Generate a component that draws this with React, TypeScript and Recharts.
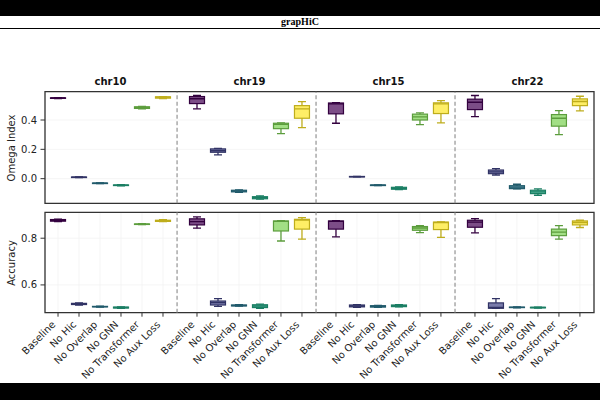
import { Bar, ComposedChart, XAxis, YAxis, Scatter, ReferenceLine, ReferenceArea, CartesianGrid } from "recharts"

const chromosomes = ["chr10", "chr19", "chr15", "chr22"]
const variants = ["Baseline", "No Hic", "No Overlap", "No GNN", "No Transformer", "No Aux Loss"]
const variantColors = ["#440154", "#414487", "#2a788e", "#22a884", "#7ad151", "#fde725"]

// each row: [lower whisker, q1, median, q3, upper whisker], one row per variant
const omegaChr10 = [
  [0.546, 0.548, 0.55, 0.551, 0.553],
  [0.008, 0.009, 0.01, 0.011, 0.012],
  [-0.033, -0.032, -0.031, -0.03, -0.029],
  [-0.049, -0.047, -0.045, -0.043, -0.041],
  [0.476, 0.479, 0.485, 0.49, 0.493],
  [0.546, 0.549, 0.556, 0.558, 0.56],
]
const omegaChr19 = [
  [0.476, 0.512, 0.545, 0.56, 0.567],
  [0.162, 0.18, 0.19, 0.203, 0.207],
  [-0.093, -0.09, -0.085, -0.079, -0.076],
  [-0.14, -0.137, -0.13, -0.123, -0.117],
  [0.307, 0.341, 0.37, 0.378, 0.38],
  [0.348, 0.412, 0.476, 0.498, 0.526],
]
const omegaChr15 = [
  [0.378, 0.442, 0.51, 0.516, 0.518],
  [0.012, 0.013, 0.014, 0.015, 0.016],
  [-0.048, -0.047, -0.045, -0.043, -0.042],
  [-0.074, -0.072, -0.066, -0.059, -0.057],
  [0.369, 0.4, 0.421, 0.44, 0.448],
  [0.38, 0.444, 0.51, 0.517, 0.532],
]
const omegaChr22 = [
  [0.423, 0.471, 0.521, 0.542, 0.567],
  [0.025, 0.034, 0.046, 0.059, 0.068],
  [-0.07, -0.068, -0.058, -0.048, -0.038],
  [-0.113, -0.102, -0.09, -0.079, -0.07],
  [0.3, 0.358, 0.412, 0.437, 0.464],
  [0.462, 0.498, 0.526, 0.544, 0.562],
]

const accuracyChr10 = [
  [0.871, 0.873, 0.877, 0.88, 0.882],
  [0.514, 0.516, 0.518, 0.521, 0.523],
  [0.505, 0.506, 0.507, 0.508, 0.509],
  [0.5, 0.501, 0.503, 0.505, 0.506],
  [0.858, 0.859, 0.86, 0.861, 0.862],
  [0.871, 0.872, 0.875, 0.877, 0.879],
]
const accuracyChr19 = [
  [0.843, 0.857, 0.871, 0.883, 0.891],
  [0.508, 0.514, 0.524, 0.531, 0.541],
  [0.509, 0.51, 0.512, 0.514, 0.515],
  [0.5, 0.503, 0.51, 0.515, 0.518],
  [0.788, 0.831, 0.872, 0.874, 0.875],
  [0.796, 0.839, 0.878, 0.881, 0.888],
]
const accuracyChr15 = [
  [0.806, 0.839, 0.872, 0.874, 0.875],
  [0.504, 0.506, 0.51, 0.514, 0.516],
  [0.504, 0.505, 0.508, 0.511, 0.512],
  [0.506, 0.507, 0.511, 0.514, 0.515],
  [0.824, 0.834, 0.844, 0.85, 0.854],
  [0.804, 0.837, 0.867, 0.869, 0.87],
]
const accuracyChr22 = [
  [0.823, 0.847, 0.869, 0.877, 0.884],
  [0.5, 0.5, 0.503, 0.523, 0.541],
  [0.502, 0.503, 0.504, 0.505, 0.506],
  [0.501, 0.502, 0.503, 0.504, 0.505],
  [0.796, 0.811, 0.826, 0.839, 0.854],
  [0.846, 0.857, 0.867, 0.874, 0.877],
]

const omegaTicks = [0, 0.2, 0.4]
const accuracyTicks = [0.6, 0.8]

// layout along x: six boxes per chromosome, wider gap between chromosomes
const GROUP_STRIDE = 6.62
const X_DOMAIN: [number, number] = [-0.62, 3 * GROUP_STRIDE + 5.67]
const BOX_WIDTH = 15
const CAP_WIDTH = 8
const FONT = '"DejaVu Sans", sans-serif'

function rgb(hex: string) {
  const n = parseInt(hex.slice(1), 16)
  return [(n >> 16) & 255, (n >> 8) & 255, n & 255]
}
// box face: colour at 0.7 alpha over white
const faceColor = (i: number) => {
  const [r, g, b] = rgb(variantColors[i]).map((c) => Math.round(c * 0.7 + 255 * 0.3))
  return `rgb(${r},${g},${b})`
}
// outlines, whiskers and medians: darker shade of the colour
const edgeColor = (i: number) => {
  const [r, g, b] = rgb(variantColors[i]).map((c) => Math.round(c * 0.75))
  return `rgb(${r},${g},${b})`
}

function buildRows(groups: number[][][]) {
  return groups.flatMap((group, g) =>
    group.map(([lo, q1, med, q3, hi], j) => ({
      x: g * GROUP_STRIDE + j,
      name: variants[j],
      variant: j,
      whisker: [lo, hi],
      box: [q1, q3],
      med,
    }))
  )
}

const omegaRows = buildRows([omegaChr10, omegaChr19, omegaChr15, omegaChr22])
const accuracyRows = buildRows([accuracyChr10, accuracyChr19, accuracyChr15, accuracyChr22])
const tickPositions = omegaRows.map((r) => r.x)
const separators = [1, 2, 3].map((g) => g * GROUP_STRIDE - 0.95)
const groupCenters = chromosomes.map((_, g) => g * GROUP_STRIDE + 2.5)

const labelAt = (v: number) => omegaRows.find((r) => Math.abs(r.x - v) < 1e-6)?.name ?? ""

function WhiskerShape(props: any) {
  const { x, y, width, height, payload } = props
  const cx = x + width / 2
  const top = Math.min(y, y + height)
  const bottom = Math.max(y, y + height)
  return (
    <g stroke={edgeColor(payload.variant)} strokeWidth={1.3}>
      <line x1={cx} x2={cx} y1={top} y2={bottom} />
      <line x1={cx - CAP_WIDTH / 2} x2={cx + CAP_WIDTH / 2} y1={top} y2={top} />
      <line x1={cx - CAP_WIDTH / 2} x2={cx + CAP_WIDTH / 2} y1={bottom} y2={bottom} />
    </g>
  )
}

function BoxShape(props: any) {
  const { x, y, width, height, payload } = props
  const top = Math.min(y, y + height)
  return (
    <rect
      x={x}
      y={top}
      width={width}
      height={Math.max(Math.abs(height), 0.5)}
      fill={faceColor(payload.variant)}
      stroke={edgeColor(payload.variant)}
      strokeWidth={1.2}
    />
  )
}

function MedianShape(props: any) {
  const { cx, cy, payload } = props
  return (
    <line
      x1={cx - BOX_WIDTH / 2}
      x2={cx + BOX_WIDTH / 2}
      y1={cy}
      y2={cy}
      stroke={edgeColor(payload.variant)}
      strokeWidth={1.4}
    />
  )
}

// 45° labels whose upper right corner sits just under the tick
function SlantedTick(props: any) {
  const { x, y, payload } = props
  return (
    <g transform={`translate(${x - 2},${y + 5.5})`}>
      <text transform="rotate(-45)" textAnchor="end" fontSize={10} fill="#222" fontFamily={FONT}>
        {labelAt(payload.value)}
      </text>
    </g>
  )
}

type PanelProps = {
  rows: ReturnType<typeof buildRows>
  height: number
  margin: { top: number; right: number; bottom: number; left: number }
  yDomain: [number, number]
  yTicks: number[]
  xAxisHeight: number
  showLabels?: boolean
  showTitles?: boolean
}

function BoxPanel({ rows, height, margin, yDomain, yTicks, xAxisHeight, showLabels, showTitles }: PanelProps) {
  return (
    <ComposedChart width={600} height={height} data={rows} margin={margin} barGap={-BOX_WIDTH}>
      <CartesianGrid stroke="#f3f3f3" strokeWidth={0.8} />
      <XAxis
        type="number"
        dataKey="x"
        domain={X_DOMAIN}
        ticks={tickPositions}
        interval={0}
        allowDataOverflow
        axisLine={false}
        tickSize={4}
        tickMargin={3}
        tickLine={{ stroke: "#333", strokeWidth: 1 }}
        height={xAxisHeight}
        tick={showLabels ? <SlantedTick /> : false}
      />
      <YAxis
        type="number"
        domain={yDomain}
        ticks={yTicks}
        allowDataOverflow
        width={45}
        axisLine={false}
        tickSize={4.5}
        tickMargin={3.5}
        tickLine={{ stroke: "#333", strokeWidth: 1 }}
        tickFormatter={(v: number) => v.toFixed(1)}
        tick={{ fontSize: 10, fill: "#222", fontFamily: FONT }}
      />
      {separators.map((s) => (
        <ReferenceLine key={s} x={s} stroke="#8a8a8a" strokeWidth={1.1} strokeDasharray="4 2.5" />
      ))}
      {showTitles &&
        groupCenters.map((c, g) => (
          <ReferenceLine
            key={chromosomes[g]}
            x={c}
            stroke="none"
            label={{
              value: chromosomes[g],
              position: "top",
              offset: 7,
              fontSize: 10,
              fontWeight: "bold",
              fill: "#111",
              fontFamily: FONT,
            }}
          />
        ))}
      <Bar dataKey="whisker" barSize={BOX_WIDTH} shape={WhiskerShape} isAnimationActive={false} />
      <Bar dataKey="box" barSize={BOX_WIDTH} shape={BoxShape} isAnimationActive={false} />
      <Scatter dataKey="med" shape={MedianShape} isAnimationActive={false} />
      <ReferenceArea
        x1={X_DOMAIN[0]}
        x2={X_DOMAIN[1]}
        y1={yDomain[0]}
        y2={yDomain[1]}
        fill="none"
        stroke="#333"
        strokeWidth={1.3}
      />
    </ComposedChart>
  )
}

const axisTitle = (text: string, centerY: number) => (
  <div
    style={{
      position: "absolute",
      left: 11.5 - 50,
      top: centerY - 7,
      width: 100,
      height: 14,
      lineHeight: "14px",
      textAlign: "center",
      fontSize: 10,
      color: "#222",
      transform: "rotate(-90deg)",
    }}
  >
    {text}
  </div>
)

export default function App() {
  return (
    <div
      style={{
        position: "absolute",
        left: 0,
        top: 0,
        width: 600,
        height: 400,
        background: "#fff",
        overflow: "hidden",
        fontFamily: FONT,
      }}
    >
      <div style={{ position: "absolute", left: 0, top: 0, width: 600, height: 16, background: "#000" }} />
      <div
        style={{
          position: "absolute",
          left: 0,
          top: 16,
          width: 600,
          height: 12,
          lineHeight: "12px",
          textAlign: "center",
          fontFamily: '"Liberation Serif", serif',
          fontWeight: "bold",
          fontSize: 10,
          color: "#000",
        }}
      >
        grapHiC
      </div>
      <div style={{ position: "absolute", left: 0, top: 28, width: 600, height: 1, background: "#000" }} />

      <div style={{ position: "absolute", left: 0, top: 0 }}>
        <BoxPanel
          rows={omegaRows}
          height={212}
          margin={{ top: 91.7, right: 6, bottom: 0.7, left: 0 }}
          yDomain={[-0.168, 0.593]}
          yTicks={omegaTicks}
          xAxisHeight={8}
          showTitles
        />
      </div>
      <div style={{ position: "absolute", left: 0, top: 206 }}>
        <BoxPanel
          rows={accuracyRows}
          height={177}
          margin={{ top: 6.3, right: 6, bottom: 0.3, left: 0 }}
          yDomain={[0.481, 0.911]}
          yTicks={accuracyTicks}
          xAxisHeight={70}
          showLabels
        />
      </div>
      {axisTitle("Omega Index", 147.5)}
      {axisTitle("Accuracy", 262.5)}

      <div style={{ position: "absolute", left: 0, top: 383, width: 600, height: 17, background: "#000" }} />
    </div>
  )
}
